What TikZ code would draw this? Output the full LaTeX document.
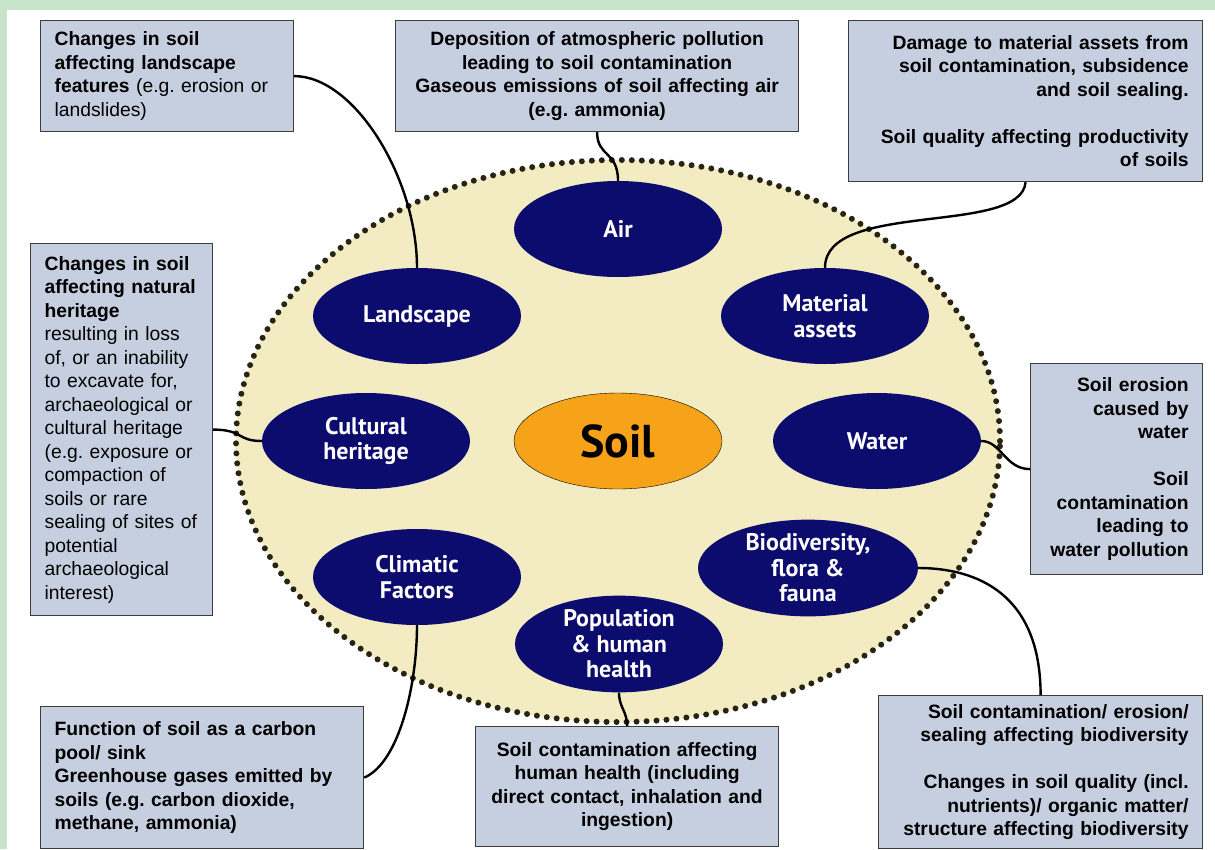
\documentclass[tikz,border=0pt]{standalone}
\usepackage{fontspec}
\setmainfont{Liberation Sans}
\newfontfamily\ovalfont{PT Sans}
\usetikzlibrary{shapes.geometric}
\frenchspacing

\definecolor{bandgreen}{RGB}{200,228,200}
\definecolor{boxfill}{RGB}{197,207,223}
\definecolor{boxline}{RGB}{60,60,60}
\definecolor{navy}{RGB}{12,12,110}
\definecolor{soilorange}{RGB}{247,163,26}
\definecolor{sand}{RGB}{243,236,194}
\definecolor{dotbrown}{RGB}{40,36,20}

\begin{document}
\begin{tikzpicture}[x=1pt, y=-1pt,
    infobox/.style={draw=boxline, line width=1.2pt, fill=boxfill, inner xsep=14pt, inner ysep=0pt,
        anchor=north west, font=\fontsize{19.3}{23.5}\selectfont, text=black},
    infobold/.style={infobox, font=\fontsize{19.3}{23.5}\selectfont\bfseries},
    topic/.style={ellipse, fill=navy, minimum width=208pt, minimum height=96pt, inner sep=0pt,
        align=center, text=white, font=\ovalfont\bfseries\fontsize{24}{25.5}\selectfont},
    link/.style={line width=2.4pt, black}]

    % Frame
    \useasboundingbox (0,0) rectangle (1215,849);
    \fill[white] (0,0) rectangle (1215,849);
    \fill[bandgreen] (0,0) rectangle (1215,10);
    \fill[bandgreen] (0,0) rectangle (7,849);

    % Big dotted ellipse
    \draw[fill=sand, draw=dotbrown, line width=6pt, line cap=round, dash pattern=on 0pt off 10pt]
        (618,441) ellipse [x radius=382pt, y radius=281pt];

    % Topics round the soil
    \node[topic] (air) at (618,229) {Air};
    \node[topic] (landscape) at (417,316) {Landscape};
    \node[topic] (material) at (825,316) {Material\\assets};
    \node[topic] (cultural) at (366,441) {Cultural\\heritage};
    \node[topic] (water) at (877,441) {Water};
    \node[topic] (climatic) at (417,577) {Climatic\\Factors};
    \node[topic, minimum width=220pt] (biodiv) at (808,568) {Biodiversity,\\flora \&\\fauna};
    \node[topic] (population) at (619,644) {Population\\\& human\\health};
    \node[ellipse, draw=black, thin, fill=soilorange, minimum width=208pt, minimum height=96pt,
        font=\ovalfont\bfseries\fontsize{46}{48}\selectfont] (soil) at (618,441) {Soil};

    % Effect boxes
    \node[infobox, text width=225pt, minimum height=111pt, align=left] (lsbox) at (40,20)
        {\textbf{Changes in soil}\\\textbf{affecting landscape}\\\textbf{features} (e.g. erosion or\\landslides)};
    \node[infobold, text width=375pt, minimum height=111pt, align=center] (airbox) at (395,20)
        {Deposition of atmospheric pollution\\leading to soil contamination\\Gaseous emissions of soil affecting air\\(e.g. ammonia)};
    \node[infobold, text width=326pt, minimum height=161pt, align=right] (mabox) at (848,20)
        {Damage to material assets from\\soil contamination, subsidence\\and soil sealing.\\[23.5pt]Soil quality affecting productivity\\of soils};
    \node[infobox, text width=154pt, minimum height=372pt, align=left] (culbox) at (30,243)
        {\textbf{Changes in soil}\\\textbf{affecting natural}\\\textbf{heritage}\\resulting in loss\\of, or an inability\\to excavate for,\\archaeological or\\cultural heritage\\(e.g. exposure or\\compaction of\\soils or rare\\sealing of sites of\\potential\\archaeological\\interest)};
    \node[infobold, text width=144pt, minimum height=211pt, align=right] (wbox) at (1030,363)
        {Soil erosion\\caused by\\water\\[23.5pt]Soil\\contamination\\leading to\\water pollution};
    \node[infobold, text width=295pt, minimum height=142pt, align=left] (ccbox) at (40,706)
        {Function of soil as a carbon\\pool/ sink\\Greenhouse gases emitted by\\soils (e.g. carbon dioxide,\\methane, ammonia)};
    \node[infobold, text width=275pt, minimum height=120pt, align=center] (popbox) at (475,726)
        {Soil contamination affecting\\human health (including\\direct contact, inhalation and\\ingestion)};
    \node[infobold, text width=296pt, minimum height=153pt, align=right] (bdbox) at (878,695)
        {Soil contamination/ erosion/\\sealing affecting biodiversity\\[23.5pt]Changes in soil quality (incl.\\nutrients)/ organic matter/\\structure affecting biodiversity};

    % Connectors
    \draw[link] (lsbox.east) .. controls +(60,0) and +(0,-90) .. (landscape.north);
    \draw[link] (airbox.south) .. controls +(0,25) and +(0,-30) .. (air.north);
    \draw[link] (mabox.south) .. controls +(-5,54) and +(0,-68) .. (material.north);
    \draw[link] (culbox.east) .. controls +(30,0) and +(-25,0) .. (cultural.west);
    \draw[link] (wbox.west) .. controls +(-25,0) and +(20,0) .. (water.east);
    \draw[link] (ccbox.east) .. controls +(35,-15) and +(0,60) .. (climatic.south);
    \draw[link] (popbox.north) .. controls +(0,-15) and +(0,15) .. (population.south);
    \draw[link] (bdbox.north) .. controls +(0,-100) and +(60,0) .. (biodiv.east);

\end{tikzpicture}
\end{document}
